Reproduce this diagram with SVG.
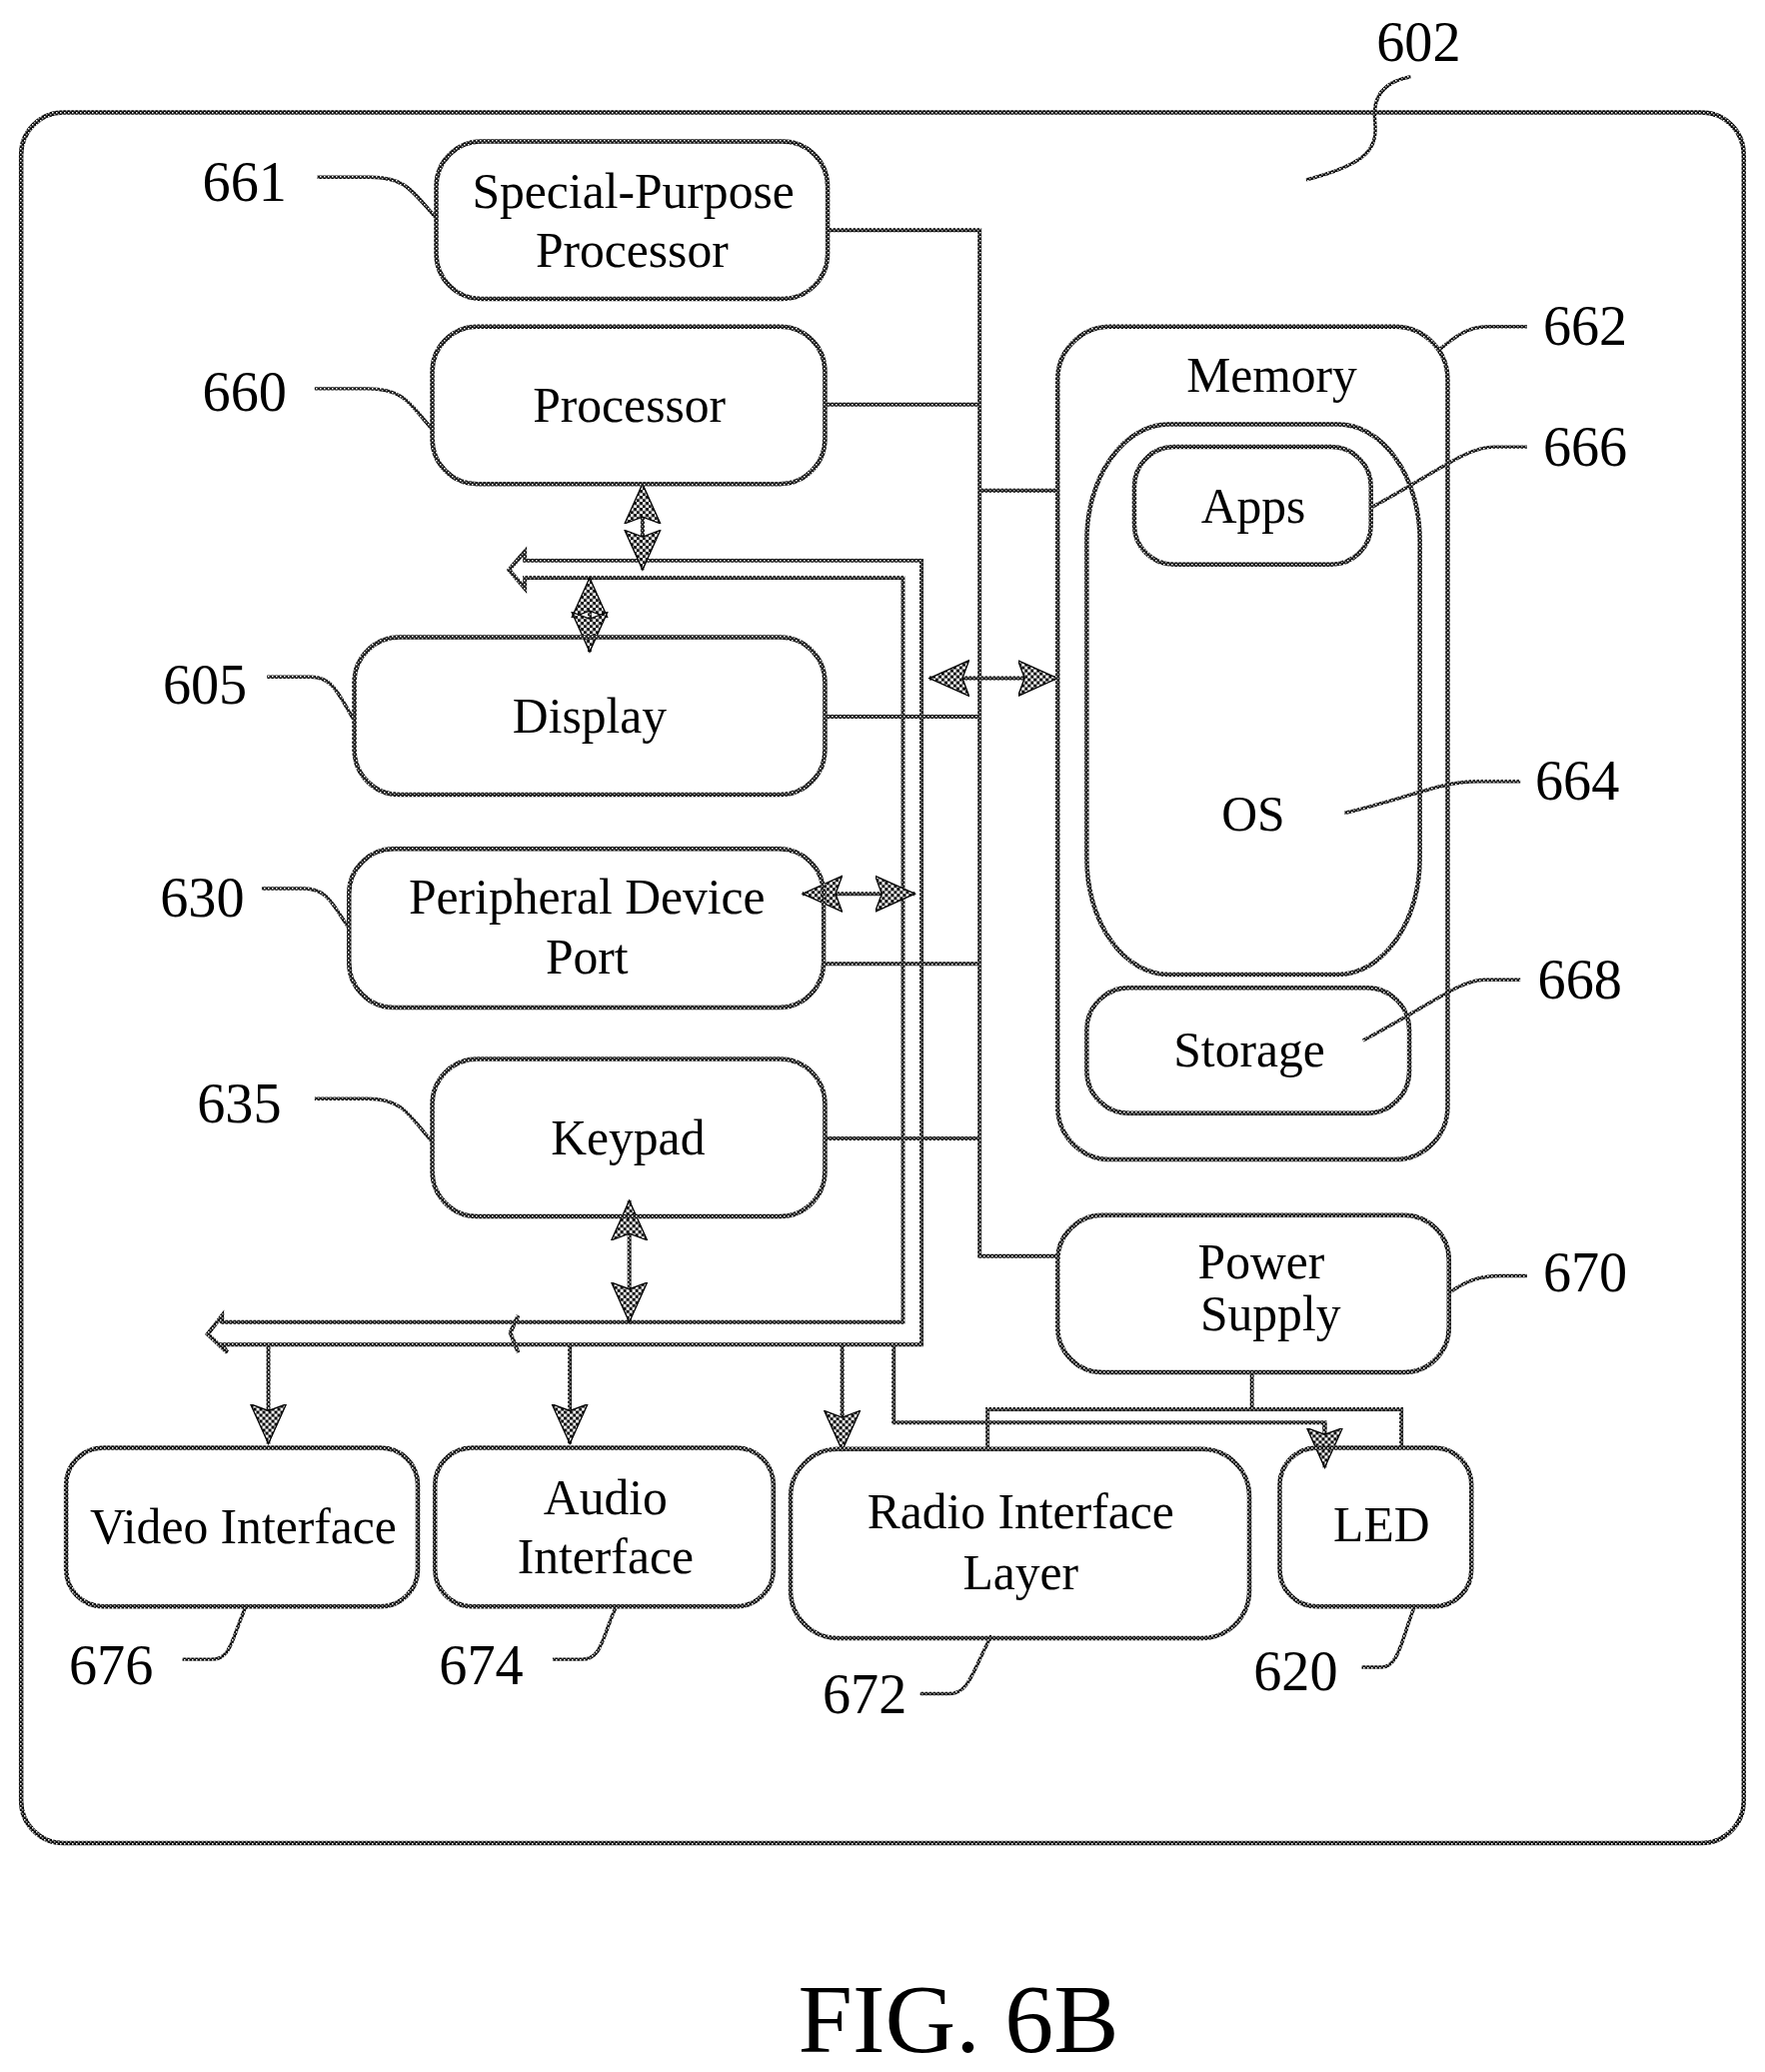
<svg xmlns="http://www.w3.org/2000/svg" width="1766" height="2073" viewBox="0 0 1766 2073">
<style>
text{font-family:"Liberation Serif","Times New Roman",serif;fill:#000;text-anchor:middle}
.t{font-size:37.5px}.n{font-size:42.5px}.f{font-size:74px}
.b{fill:none;stroke:url(#ln);stroke-width:3.4}
.c{fill:none;stroke:url(#ln);stroke-width:3}
.l{fill:none;stroke:url(#ln);stroke-width:2.6}
</style>
<defs>
<pattern id="ln" patternUnits="userSpaceOnUse" width="3.024" height="3.024"><rect width="3.024" height="3.024" fill="#000"/><rect x="0" y="0" width="1.1" height="1.1" fill="#fff"/><rect x="1.512" y="1.512" width="1.1" height="1.1" fill="#fff"/></pattern>
<pattern id="ck" patternUnits="userSpaceOnUse" width="4.536" height="4.536"><rect width="4.536" height="4.536" fill="#fff"/><rect width="2.268" height="2.268" fill="#000"/><rect x="2.268" y="2.268" width="2.268" height="2.268" fill="#000"/></pattern>
<marker id="h" markerUnits="userSpaceOnUse" viewBox="-30 -15 32 30" markerWidth="32" markerHeight="30" refX="0" refY="0" orient="auto-start-reverse"><path d="M0,0 L-30,-13.5 L-25,0 L-30,13.5 Z" fill="url(#ck)" stroke="#000" stroke-width="1"/></marker>
</defs>
<g transform="scale(1.3228)">
<g id="outer"><rect class="b" x="16" y="85" width="1303" height="1309" rx="32"/></g>
<g id="connectors">
<path class="c" d="M626,174H741V950H800M624,306H741M741,371H800M624,542H741M623,729H741M624,861H741"/>
<path class="c" d="M397,424H697V1017H168L172,1023L157,1009L168,995L168,1000H683V437H397L397,445L385,431L397,417Z" stroke-linejoin="miter"/>
<path class="c" d="M392,995L386,1008L392,1023"/>
<path class="c" d="M947,1038V1066M747,1096V1066H1060V1095"/>
<path class="c" d="M676,1017V1076H1002V1082" />
<path class="c" d="M1002,1076V1110" marker-end="url(#h)"/>
<path class="c" d="M703,513H800" marker-start="url(#h)" marker-end="url(#h)"/>
<path class="c" d="M607,676H692" marker-start="url(#h)" marker-end="url(#h)"/>
<path class="c" d="M486,366V431" marker-start="url(#h)" marker-end="url(#h)"/>
<path class="c" d="M446,437V493" marker-start="url(#h)" marker-end="url(#h)"/>
<path class="c" d="M476,908V1000" marker-start="url(#h)" marker-end="url(#h)"/>
<path class="c" d="M203,1017V1092" marker-end="url(#h)"/>
<path class="c" d="M431,1017V1092" marker-end="url(#h)"/>
<path class="c" d="M637,1017V1097" marker-end="url(#h)"/>
</g>
<g id="n661"><rect class="b" x="330" y="107" width="296" height="119" rx="34"/><text class="t" x="479" y="157">Special-Purpose</text><text class="t" x="478" y="202">Processor</text></g>
<g id="n660"><rect class="b" x="327" y="247" width="297" height="119" rx="34"/><text class="t" x="476" y="319">Processor</text></g>
<g id="n605"><rect class="b" x="268" y="482" width="356" height="119" rx="34"/><text class="t" x="446" y="554">Display</text></g>
<g id="n630"><rect class="b" x="264" y="642" width="359" height="120" rx="34"/><text class="t" x="444" y="691">Peripheral Device</text><text class="t" x="444" y="736">Port</text></g>
<g id="n635"><rect class="b" x="327" y="801" width="297" height="119" rx="34"/><text class="t" x="475" y="873">Keypad</text></g>
<g id="n662"><rect class="b" x="800" y="247" width="295" height="630" rx="40"/><text class="t" x="962" y="296">Memory</text></g>
<g id="n664"><rect class="b" x="822" y="321" width="252" height="416" rx="62" ry="88"/><text class="t" x="948" y="628">OS</text></g>
<g id="n666"><rect class="b" x="858" y="338" width="179" height="89" rx="30"/><text class="t" x="948" y="395">Apps</text></g>
<g id="n668"><rect class="b" x="822" y="747" width="244" height="95" rx="32"/><text class="t" x="945" y="807">Storage</text></g>
<g id="n670"><rect class="b" x="800" y="919" width="296" height="119" rx="34"/><text class="t" x="954" y="967">Power</text><text class="t" x="961" y="1006">Supply</text></g>
<g id="n676"><rect class="b" x="50" y="1095" width="266" height="120" rx="28"/><text class="t" x="184" y="1167">Video Interface</text></g>
<g id="n674"><rect class="b" x="329" y="1095" width="256" height="120" rx="28"/><text class="t" x="458" y="1145">Audio</text><text class="t" x="458" y="1190">Interface</text></g>
<g id="n672"><rect class="b" x="598" y="1096" width="347" height="143" rx="36"/><text class="t" x="772" y="1156">Radio Interface</text><text class="t" x="772" y="1202">Layer</text></g>
<g id="n620"><rect class="b" x="968" y="1095" width="145" height="120" rx="28"/><text class="t" x="1045" y="1166">LED</text></g>
<g id="leaders">
<path class="l" d="M1067,58C1045,62 1038,75 1040,92C1042,112 1035,124 988,136"/>
<path class="l" d="M240,134H280C305,134 310,142 330,165"/>
<path class="l" d="M238,294H278C303,294 308,302 327,325"/>
<path class="l" d="M202,512H235C252,512 256,525 268,545"/>
<path class="l" d="M198,672H230C248,672 252,685 264,702"/>
<path class="l" d="M238,831H278C303,831 308,841 327,864"/>
<path class="l" d="M1155,247H1125C1110,247 1100,255 1088,265"/>
<path class="l" d="M1155,338H1130C1110,338 1090,355 1037,384"/>
<path class="l" d="M1150,591H1118C1090,591 1070,602 1017,615"/>
<path class="l" d="M1150,741H1123C1105,741 1085,758 1031,787"/>
<path class="l" d="M1155,965H1135C1120,965 1110,968 1096,978"/>
<path class="l" d="M138,1255H160C175,1255 175,1240 186,1215"/>
<path class="l" d="M418,1255H440C455,1255 455,1240 466,1215"/>
<path class="l" d="M696,1281H718C733,1281 735,1265 750,1237"/>
<path class="l" d="M1030,1261H1045C1058,1261 1060,1240 1070,1215"/>
</g>
<g id="labels">
<text class="n" x="1073" y="46">602</text>
<text class="n" x="185" y="152">661</text>
<text class="n" x="185" y="311">660</text>
<text class="n" x="155" y="532">605</text>
<text class="n" x="153" y="693">630</text>
<text class="n" x="181" y="849">635</text>
<text class="n" x="1199" y="261">662</text>
<text class="n" x="1199" y="352">666</text>
<text class="n" x="1193" y="605">664</text>
<text class="n" x="1195" y="755">668</text>
<text class="n" x="1199" y="977">670</text>
<text class="n" x="84" y="1274">676</text>
<text class="n" x="364" y="1274">674</text>
<text class="n" x="654" y="1296">672</text>
<text class="n" x="980" y="1278">620</text>
<text class="f" x="725" y="1552">FIG. 6B</text>
</g>
</g>
</svg>
